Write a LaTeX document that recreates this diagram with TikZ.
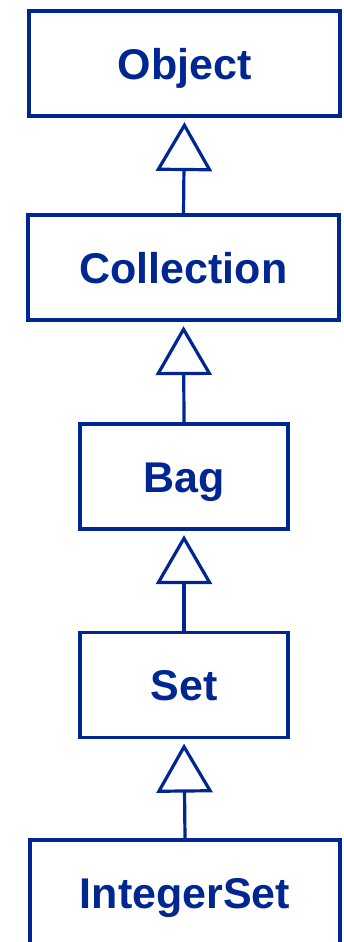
\documentclass[tikz,border=0pt]{standalone}
\usepackage{fontspec}
\setmainfont{Liberation Sans}
\usetikzlibrary{arrows.meta}
\definecolor{umlblue}{RGB}{0,38,145}
\tikzset{
	classbox/.style={draw=umlblue, line width=3.2pt, text=umlblue, font=\fontsize{43}{50}\selectfont\bfseries, text height=31pt, text depth=0pt, minimum height=105pt, inner sep=0pt},
	inherit/.style={draw=umlblue, line width=3.2pt, -{Triangle[open, length=49pt, width=56pt]}, shorten >=4.5pt}
}

\begin{document}
\begin{tikzpicture}[x=1pt, y=-1pt]
			%%%%% START %%%%%
			
			\clip (0, 0) rectangle (343, 942);
			
			\node[classbox, minimum width=311pt] (object) at (184.5, 63.5) {Object};
			\node[classbox, minimum width=311pt] (collection) at (183.5, 267.5) {Collection};
			\node[classbox, minimum width=208pt] (bag) at (184, 476.5) {Bag};
			\node[classbox, minimum width=208pt] (set) at (184, 685) {Set};
			\node[classbox, minimum width=310pt] (integerset) at (185, 892.5) {IntegerSet};
			
			\draw[inherit] (collection.north) -- (object.south);
			\draw[inherit] (bag.north) -- (collection.south);
			\draw[inherit] (set.north) -- (bag.south);
			\draw[inherit] (integerset.north) -- (set.south);
			
			%%%%% END %%%%%
		\end{tikzpicture}
\end{document}
